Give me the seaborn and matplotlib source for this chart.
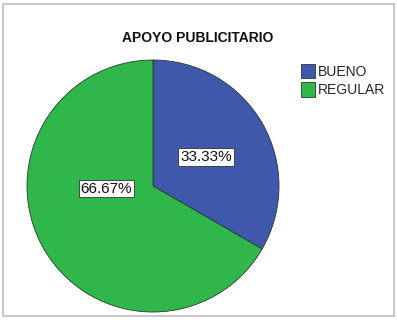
import matplotlib
matplotlib.use("Agg")
import matplotlib.pyplot as plt
import seaborn as sns
from matplotlib.patches import Rectangle

sns.set_style("white")
plt.rcParams['font.family'] = ['Liberation Sans', 'DejaVu Sans']

categories = ["BUENO", "REGULAR"]
values = [33.33, 66.67]
labels = ["33.33%", "66.67%"]
colors = ["#3F58AB", "#2FB74C"]
title = "APOYO PUBLICITARIO"

fig = plt.figure(figsize=(3.97, 3.20), dpi=100)
fig.patch.set_facecolor("white")
# outer frame
fig.add_artist(Rectangle((0.008, 0.012), 0.984, 0.976, transform=fig.transFigure,
                         fill=False, edgecolor="#BDBDBD", linewidth=1.2))

ax = fig.add_axes([27/397, 8/320, 252/397, 252/320])
wedges, _ = ax.pie(values, colors=colors, startangle=90, counterclock=False,
                   wedgeprops=dict(edgecolor="#2a3a2a", linewidth=0.6))
ax.set_xlim(-1, 1)
ax.set_ylim(-1, 1)
ax.set_aspect("equal")
ax.axis("off")

label_pos = [(0.42, 0.23), (-0.37, -0.02)]
for (x, y), t in zip(label_pos, labels):
    ax.text(x, y, t, ha="center", va="center", fontsize=11, color="#111111",
            bbox=dict(boxstyle="square,pad=0.12", facecolor="white", edgecolor="#333333", linewidth=0.6))

fig.text(198/397, 1 - 38/320, title, ha="center", va="center", fontsize=10,
         fontweight="bold", color="#111111")

leg = fig.legend(wedges, categories, loc="upper left", bbox_to_anchor=(301/397, 1 - 64/320),
                 frameon=False, fontsize=10, handlelength=1.0, handleheight=1.2,
                 handletextpad=0.25, labelspacing=0.25, borderaxespad=0, borderpad=0)

fig.savefig("out.png", dpi=100, facecolor="white")
